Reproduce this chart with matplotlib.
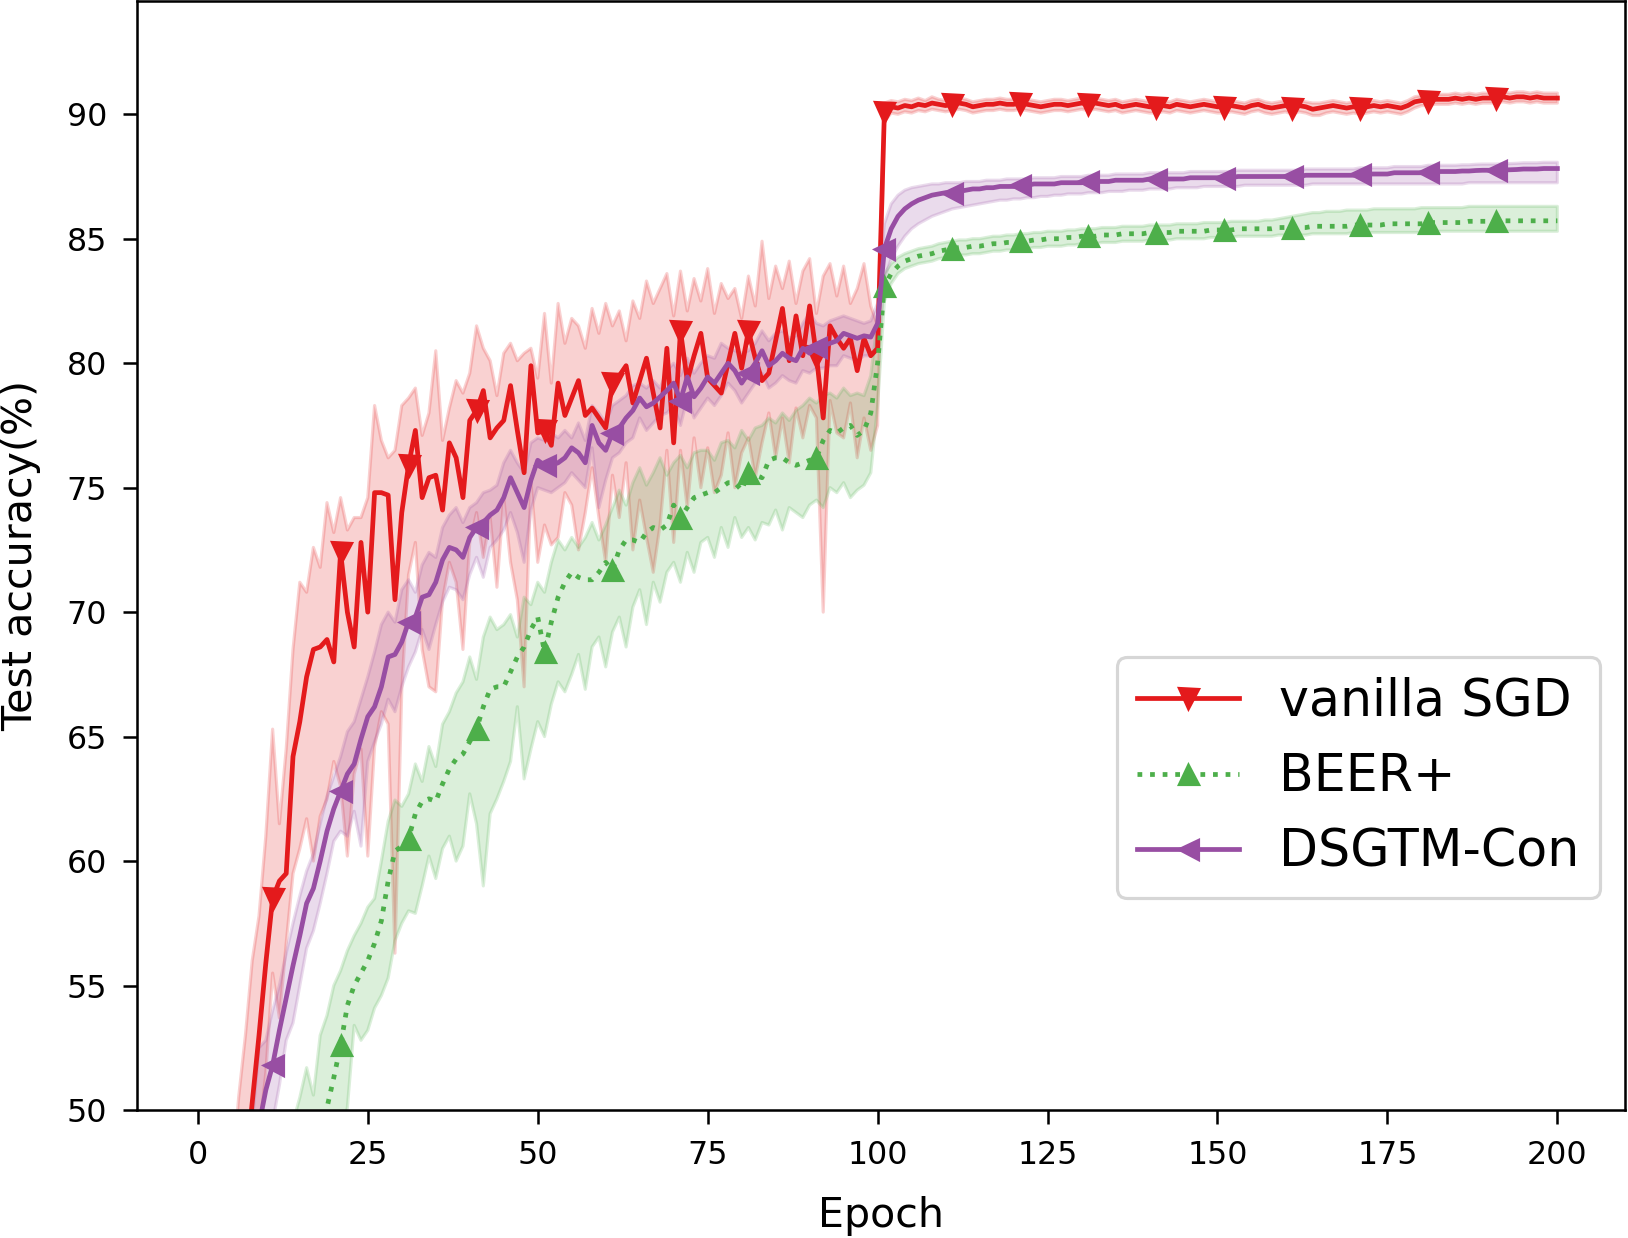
import matplotlib
matplotlib.use('Agg')
import matplotlib.pyplot as plt
import numpy as np

#? Data (epochs 1..200)
epochs = np.arange(1, 201)

# vanilla SGD
sgd_mean = [
    20.0, 27.0, 33.0, 38.0, 42.0, 45.0, 47.5, 50.3, 53.0, 55.9,
    58.5, 59.2, 59.5, 64.2, 65.6, 67.4, 68.5, 68.6, 68.9, 68.0,
    72.4, 70.0, 68.6, 72.8, 70.0, 74.8, 74.8, 74.7, 70.5, 74.0,
    75.9, 77.3, 74.6, 75.4, 75.5, 74.1, 76.8, 76.2, 74.6, 77.7,
    78.1, 78.9, 77.0, 77.4, 77.7, 79.1, 77.3, 75.6, 79.9, 77.2,
    77.3, 76.7, 79.2, 77.9, 78.6, 79.3, 77.9, 78.2, 77.8, 77.4,
    79.2, 79.5, 79.9, 78.4, 79.3, 80.2, 78.8, 77.4, 80.6, 76.8,
    81.3, 79.3, 80.3, 81.2, 79.4, 79.1, 78.8, 80.0, 81.2, 79.8,
    81.3, 80.2, 79.3, 79.6, 80.9, 82.2, 80.1, 81.9, 80.3, 82.3,
    80.3, 77.8, 81.5, 81.0, 80.6, 81.0, 79.7, 81.0, 80.3, 80.6,
    90.1, 90.3, 90.25, 90.35, 90.3, 90.4, 90.35, 90.45, 90.4, 90.35,
    90.4, 90.45, 90.4, 90.3, 90.35, 90.4, 90.4, 90.45, 90.4, 90.4,
    90.45, 90.4, 90.35, 90.3, 90.35, 90.4, 90.4, 90.35, 90.4, 90.45,
    90.4, 90.45, 90.4, 90.35, 90.4, 90.3, 90.35, 90.4, 90.35, 90.3,
    90.3, 90.35, 90.3, 90.4, 90.35, 90.3, 90.35, 90.4, 90.35, 90.3,
    90.3, 90.35, 90.3, 90.25, 90.35, 90.4, 90.3, 90.25, 90.3, 90.35,
    90.25, 90.35, 90.3, 90.2, 90.25, 90.3, 90.35, 90.3, 90.25, 90.3,
    90.25, 90.3, 90.35, 90.3, 90.35, 90.3, 90.25, 90.35, 90.5, 90.55,
    90.55, 90.6, 90.6, 90.6, 90.65, 90.6, 90.65, 90.6, 90.65, 90.65,
    90.65, 90.7, 90.65, 90.7, 90.7, 90.65, 90.7, 90.65, 90.65, 90.65,
]
sgd_hi = [
    24.0, 32.0, 38.0, 43.0, 47.0, 50.5, 53.0, 56.0, 57.8, 61.0,
    65.3, 61.5, 64.5, 68.5, 71.2, 70.8, 72.6, 71.8, 74.4, 73.2,
    74.6, 73.3, 73.8, 73.8, 74.6, 78.3, 76.9, 76.2, 76.5, 78.3,
    78.6, 79.0, 77.1, 78.0, 80.5, 76.9, 78.2, 79.3, 78.8, 79.6,
    81.5, 80.6, 80.1, 78.7, 80.4, 80.8, 80.1, 80.4, 80.6, 79.4,
    82.0, 79.2, 82.4, 80.8, 81.8, 81.5, 80.6, 82.2, 81.2, 82.4,
    81.5, 82.1, 80.9, 82.5, 81.8, 83.3, 82.4, 83.0, 83.6, 81.9,
    83.7, 82.1, 83.4, 82.5, 83.8, 82.0, 83.2, 82.6, 83.0, 81.8,
    83.5, 82.3, 84.9, 82.6, 83.9, 83.0, 84.1, 82.4, 83.7, 84.2,
    82.0, 83.5, 84.0, 82.7, 83.9, 82.4, 83.0, 84.0, 82.3, 81.5,
    90.45, 90.55, 90.5, 90.6, 90.55, 90.65, 90.55, 90.7, 90.6, 90.55,
    90.6, 90.65, 90.6, 90.5, 90.55, 90.6, 90.6, 90.65, 90.6, 90.6,
    90.65, 90.6, 90.55, 90.5, 90.55, 90.6, 90.6, 90.55, 90.6, 90.65,
    90.6, 90.65, 90.6, 90.55, 90.6, 90.5, 90.55, 90.6, 90.55, 90.5,
    90.5, 90.55, 90.5, 90.6, 90.55, 90.5, 90.55, 90.6, 90.55, 90.5,
    90.5, 90.55, 90.5, 90.45, 90.55, 90.6, 90.5, 90.45, 90.5, 90.55,
    90.45, 90.55, 90.5, 90.45, 90.45, 90.5, 90.55, 90.5, 90.45, 90.5,
    90.45, 90.5, 90.55, 90.5, 90.55, 90.5, 90.45, 90.55, 90.7, 90.75,
    90.75, 90.8, 90.8, 90.8, 90.85, 90.8, 90.85, 90.8, 90.85, 90.85,
    90.85, 90.9, 90.85, 90.9, 90.9, 90.85, 90.9, 90.85, 90.85, 90.85,
]
sgd_lo = [
    15.0, 22.0, 28.0, 33.0, 37.0, 40.0, 43.0, 46.0, 49.0, 51.5,
    55.5, 53.7, 56.7, 59.5, 60.5, 61.7, 60.0, 61.8, 62.5, 64.0,
    63.0, 60.2, 63.5, 64.5, 60.2, 64.6, 66.0, 65.5, 56.3, 66.9,
    71.5, 72.8, 68.5, 67.0, 66.8, 70.5, 72.0, 71.2, 68.5, 72.8,
    74.0, 72.2, 73.8, 71.0, 74.6, 72.0, 70.5, 67.0, 75.2, 72.0,
    73.5, 72.7, 73.0, 74.8, 74.3, 72.5, 74.0, 75.8, 73.8, 72.0,
    75.5, 73.8, 76.0, 72.5, 74.5, 73.0, 71.6, 73.5, 76.5, 72.8,
    76.5, 74.2, 77.0, 75.0, 76.6, 74.8, 75.5, 77.2, 75.0, 76.4,
    77.0, 75.4, 76.8, 78.0, 76.2, 77.8, 76.0, 78.2, 77.0, 78.3,
    77.8, 70.0, 78.5, 77.2, 77.0, 78.4, 76.2, 77.8, 76.5, 77.5,
    89.7, 90.05, 90.0, 90.1, 90.05, 90.15, 90.1, 90.2, 90.15, 90.1,
    90.15, 90.2, 90.15, 90.05, 90.1, 90.15, 90.15, 90.2, 90.15, 90.15,
    90.2, 90.15, 90.1, 90.05, 90.1, 90.15, 90.15, 90.1, 90.15, 90.2,
    90.15, 90.2, 90.15, 90.1, 90.15, 90.05, 90.1, 90.15, 90.1, 90.05,
    90.05, 90.1, 90.05, 90.15, 90.1, 90.05, 90.1, 90.15, 90.1, 90.05,
    90.05, 90.1, 90.05, 90.0, 90.1, 90.15, 90.05, 90.0, 90.05, 90.1,
    90.0, 90.1, 90.05, 89.95, 89.95, 90.05, 90.1, 90.05, 90.0, 90.05,
    90.0, 90.05, 90.1, 90.05, 90.1, 90.05, 90.0, 90.1, 90.25, 90.35,
    90.35, 90.4, 90.4, 90.4, 90.45, 90.4, 90.45, 90.4, 90.45, 90.45,
    90.45, 90.5, 90.45, 90.5, 90.5, 90.45, 90.5, 90.45, 90.45, 90.45,
]

# BEER+
beer_mean = [
    20.0, 23.0, 26.0, 28.5, 31.0, 33.0, 35.0, 36.5, 38.0, 39.0,
    40.0, 41.5, 43.0, 44.0, 45.0, 46.0, 47.5, 48.8, 50.1, 51.3,
    52.6, 54.2, 55.0, 55.5, 56.0, 56.7, 57.6, 59.2, 60.4, 60.6,
    60.9, 61.9, 62.4, 62.5, 62.4, 63.1, 63.7, 64.1, 64.3, 64.8,
    65.3, 66.2, 66.9, 67.0, 67.0, 67.6, 68.2, 68.6, 69.3, 69.8,
    68.4, 69.6, 70.6, 71.2, 71.6, 71.4, 71.3, 71.3, 71.6, 72.0,
    71.7, 72.5, 72.9, 72.9, 72.8, 73.2, 73.4, 73.3, 73.5, 74.3,
    73.8, 74.2, 74.6, 74.7, 74.8, 74.8, 75.0, 75.2, 75.2, 74.9,
    75.6, 75.5, 75.4, 76.1, 76.2, 76.2, 76.0, 75.9, 76.0, 76.1,
    76.2, 76.9, 77.3, 77.2, 77.4, 77.5, 77.1, 77.3, 78.0, 80.0,
    83.1, 83.6, 83.9, 84.1, 84.2, 84.3, 84.35, 84.4, 84.5, 84.55,
    84.6, 84.65, 84.65, 84.7, 84.7, 84.75, 84.8, 84.8, 84.85, 84.85,
    84.9, 84.9, 84.95, 84.95, 85.0, 85.0, 85.0, 85.05, 85.05, 85.1,
    85.1, 85.1, 85.15, 85.15, 85.15, 85.2, 85.2, 85.2, 85.2, 85.25,
    85.25, 85.25, 85.25, 85.3, 85.3, 85.3, 85.3, 85.3, 85.35, 85.35,
    85.35, 85.35, 85.4, 85.4, 85.4, 85.4, 85.4, 85.4, 85.45, 85.45,
    85.45, 85.45, 85.45, 85.5, 85.5, 85.5, 85.5, 85.5, 85.5, 85.55,
    85.55, 85.55, 85.55, 85.55, 85.6, 85.6, 85.6, 85.6, 85.6, 85.6,
    85.65, 85.65, 85.65, 85.65, 85.65, 85.65, 85.7, 85.7, 85.7, 85.7,
    85.72, 85.72, 85.72, 85.72, 85.72, 85.72, 85.72, 85.72, 85.72, 85.72,
]
beer_hi = [
    22.5, 26.0, 29.5, 32.0, 35.0, 37.0, 40.0, 42.0, 44.0, 45.5,
    46.5, 47.5, 48.5, 49.5, 50.5, 51.7, 50.6, 53.0, 53.8, 55.0,
    55.6, 56.4, 57.0, 57.5, 58.15, 58.5, 60.0, 61.6, 62.45, 62.2,
    62.7, 63.9, 63.2, 64.6, 63.8, 65.5, 66.0, 66.75, 67.2, 68.2,
    67.3, 69.0, 69.8, 69.3, 69.5, 69.9, 69.0, 70.6, 70.3, 71.2,
    70.8, 72.0, 72.9, 72.5, 73.0, 72.6, 73.0, 73.6, 72.9, 73.5,
    74.2, 74.9, 74.3, 75.2, 75.8, 75.1, 75.6, 76.2, 75.5, 76.0,
    76.3, 75.8, 76.4, 76.5, 76.5, 76.1, 76.8, 76.9, 76.6, 77.3,
    76.9, 77.4, 77.5, 77.8, 77.6, 78.0, 77.7, 78.1, 78.3, 78.6,
    78.4, 78.7, 78.8, 78.6, 79.0, 78.7, 78.8, 78.7, 79.5, 81.8,
    83.6, 84.0, 84.25, 84.4, 84.5, 84.6, 84.65, 84.7, 84.8, 84.85,
    84.9, 84.95, 84.95, 85.0, 85.0, 85.05, 85.1, 85.1, 85.15, 85.15,
    85.2, 85.2, 85.25, 85.25, 85.3, 85.3, 85.3, 85.35, 85.35, 85.4,
    85.4, 85.4, 85.45, 85.45, 85.45, 85.5, 85.5, 85.5, 85.5, 85.55,
    85.55, 85.55, 85.55, 85.6, 85.6, 85.6, 85.6, 85.65, 85.65, 85.65,
    85.65, 85.7, 85.7, 85.7, 85.7, 85.7, 85.75, 85.75, 85.8, 85.85,
    85.9, 85.95, 86.0, 86.05, 86.05, 86.1, 86.1, 86.1, 86.15, 86.15,
    86.15, 86.15, 86.2, 86.2, 86.2, 86.2, 86.2, 86.2, 86.2, 86.25,
    86.25, 86.25, 86.25, 86.25, 86.25, 86.25, 86.3, 86.3, 86.3, 86.3,
    86.3, 86.3, 86.3, 86.3, 86.3, 86.3, 86.3, 86.3, 86.3, 86.3,
]
beer_lo = [
    17.0, 20.0, 23.0, 25.5, 27.5, 29.5, 31.5, 33.0, 34.5, 35.5,
    36.5, 37.5, 38.5, 39.5, 40.5, 41.5, 43.0, 44.5, 46.0, 47.5,
    49.0, 50.1, 53.4, 52.8, 53.2, 54.1, 54.6, 55.3, 56.8, 57.5,
    58.0, 57.9, 59.0, 60.2, 59.3, 60.5, 61.0, 60.0, 60.6, 62.7,
    61.5, 59.0, 61.9, 62.5, 63.2, 64.0, 66.2, 63.3, 64.5, 65.6,
    65.0, 66.3, 67.2, 66.8, 67.5, 68.3, 66.9, 68.6, 69.0, 67.8,
    69.2, 69.8, 68.6, 70.2, 70.9, 69.5, 71.2, 70.4, 71.6, 72.0,
    71.2, 72.4, 71.6, 72.8, 73.0, 72.2, 73.4, 72.6, 73.8, 73.0,
    73.4, 72.9, 73.6, 73.5, 74.1, 73.3, 74.2, 74.0, 73.8, 74.3,
    74.5, 74.2, 75.0, 74.8, 75.2, 74.6, 74.9, 75.1, 75.6, 78.3,
    82.5, 83.2, 83.6, 83.8, 83.9, 84.0, 84.05, 84.1, 84.2, 84.25,
    84.3, 84.35, 84.35, 84.4, 84.4, 84.45, 84.5, 84.5, 84.55, 84.55,
    84.6, 84.6, 84.65, 84.65, 84.7, 84.7, 84.7, 84.75, 84.75, 84.8,
    84.8, 84.8, 84.85, 84.85, 84.85, 84.9, 84.9, 84.9, 84.9, 84.95,
    84.95, 84.95, 84.95, 85.0, 85.0, 85.0, 85.0, 85.0, 85.05, 85.05,
    85.05, 85.05, 85.1, 85.1, 85.1, 85.1, 85.1, 85.1, 85.15, 85.15,
    85.15, 85.15, 85.15, 85.2, 85.2, 85.2, 85.2, 85.2, 85.2, 85.25,
    85.25, 85.25, 85.25, 85.25, 85.25, 85.25, 85.25, 85.25, 85.25, 85.25,
    85.3, 85.3, 85.3, 85.3, 85.3, 85.3, 85.3, 85.3, 85.3, 85.3,
    85.3, 85.3, 85.3, 85.3, 85.3, 85.3, 85.3, 85.3, 85.3, 85.3,
]

# DSGTM-Con
dsgtm_mean = [
    18.0, 23.0, 28.0, 32.0, 36.0, 40.0, 43.5, 46.5, 49.4, 50.8,
    51.8, 53.2, 54.5, 55.8, 57.0, 58.3, 58.9, 60.0, 61.2, 62.1,
    62.8, 63.5, 63.9, 64.9, 65.8, 66.2, 67.0, 68.2, 68.3, 68.8,
    69.6, 69.8, 70.6, 70.7, 71.2, 72.1, 72.6, 72.5, 72.2, 73.0,
    73.4, 73.6, 73.9, 74.1, 74.6, 75.4, 74.8, 74.2, 75.3, 76.1,
    75.9, 75.9, 76.0, 76.2, 76.6, 76.4, 76.0, 77.5, 76.8, 76.5,
    77.2, 77.4, 77.8, 78.1, 78.6, 78.25, 78.4, 78.65, 78.9, 79.2,
    78.5, 79.45, 78.65, 79.0, 79.45, 79.2, 79.6, 80.0, 79.7, 79.2,
    79.6, 80.0, 80.5, 79.9, 80.1, 80.4, 80.2, 80.1, 80.6, 80.4,
    80.65, 80.7, 80.8, 80.9, 81.2, 81.1, 81.0, 81.1, 81.05, 81.6,
    84.6, 85.4, 85.9, 86.2, 86.4, 86.55, 86.65, 86.75, 86.8, 86.85,
    86.85, 86.9, 86.95, 87.0, 87.0, 87.05, 87.05, 87.1, 87.1, 87.1,
    87.15, 87.15, 87.2, 87.2, 87.2, 87.2, 87.25, 87.25, 87.25, 87.25,
    87.3, 87.3, 87.3, 87.3, 87.35, 87.35, 87.35, 87.35, 87.35, 87.4,
    87.4, 87.4, 87.4, 87.4, 87.4, 87.45, 87.45, 87.45, 87.45, 87.45,
    87.45, 87.45, 87.5, 87.5, 87.5, 87.5, 87.5, 87.5, 87.5, 87.5,
    87.5, 87.5, 87.55, 87.55, 87.55, 87.55, 87.55, 87.55, 87.55, 87.55,
    87.6, 87.6, 87.6, 87.6, 87.6, 87.65, 87.65, 87.65, 87.65, 87.65,
    87.7, 87.7, 87.7, 87.7, 87.7, 87.72, 87.72, 87.74, 87.75, 87.75,
    87.75, 87.76, 87.77, 87.78, 87.8, 87.8, 87.8, 87.82, 87.82, 87.82,
]
dsgtm_hi = [
    21.0, 26.5, 31.5, 35.5, 39.5, 43.0, 46.5, 49.5, 52.5, 52.8,
    54.0, 55.0, 56.3, 57.5, 58.6, 59.6, 60.3, 61.5, 62.6, 63.4,
    64.2, 65.2, 65.6, 66.5, 67.4, 68.4, 69.5, 70.0, 69.6, 70.9,
    71.3, 70.8, 71.9, 72.4, 72.2, 73.4, 73.9, 74.2, 73.6, 74.2,
    74.4, 74.8, 74.9, 75.1, 76.0, 76.5, 76.0, 75.6, 76.8, 77.0,
    76.9, 77.2, 77.0, 77.3, 77.0, 77.6, 76.9, 78.3, 78.0, 77.6,
    78.3, 78.5, 78.7, 79.1, 79.2, 79.0, 79.3, 79.0, 79.7, 80.0,
    79.5, 80.2, 79.6, 80.0, 80.3, 80.2, 80.8, 80.6, 80.5, 80.4,
    80.5, 80.8, 81.3, 80.9, 81.2, 81.3, 81.0, 81.1, 81.6, 82.0,
    81.6, 81.5, 81.7, 81.8, 81.9, 81.8, 81.7, 81.6, 81.7, 82.4,
    85.6, 86.4, 86.75, 86.95, 87.05, 87.1, 87.15, 87.2, 87.2, 87.25,
    87.25, 87.25, 87.3, 87.3, 87.3, 87.35, 87.35, 87.35, 87.4, 87.4,
    87.4, 87.4, 87.45, 87.45, 87.45, 87.45, 87.5, 87.5, 87.5, 87.5,
    87.55, 87.55, 87.55, 87.55, 87.6, 87.6, 87.6, 87.6, 87.6, 87.65,
    87.65, 87.65, 87.65, 87.65, 87.65, 87.7, 87.7, 87.7, 87.7, 87.7,
    87.7, 87.7, 87.75, 87.75, 87.75, 87.75, 87.75, 87.75, 87.75, 87.75,
    87.75, 87.75, 87.8, 87.8, 87.8, 87.8, 87.8, 87.8, 87.8, 87.8,
    87.85, 87.85, 87.85, 87.85, 87.85, 87.9, 87.9, 87.9, 87.9, 87.9,
    87.95, 87.95, 87.95, 87.95, 87.95, 87.97, 87.97, 87.99, 88.0, 88.0,
    88.0, 88.01, 88.02, 88.03, 88.05, 88.05, 88.05, 88.07, 88.07, 88.07,
]
dsgtm_lo = [
    15.0, 20.0, 25.0, 29.0, 33.0, 37.0, 40.5, 43.5, 46.5, 48.5,
    49.5, 51.0, 52.8, 53.5, 55.0, 56.5, 57.2, 58.3, 59.5, 60.8,
    61.2, 61.0, 62.0, 60.6, 64.0, 64.8, 65.5, 66.5, 66.0, 67.0,
    67.8, 68.4, 69.3, 68.5, 69.5, 70.4, 71.0, 70.9, 70.5, 71.5,
    72.2, 71.4, 72.6, 72.9, 73.3, 74.0, 73.2, 72.0, 74.1, 75.0,
    74.9, 74.8, 75.0, 75.2, 75.6, 75.3, 75.0, 76.6, 74.2, 75.3,
    76.2, 76.4, 76.8, 77.0, 77.8, 77.3, 77.6, 77.9, 78.0, 78.3,
    77.5, 78.6, 77.8, 78.2, 78.6, 78.3, 78.7, 79.2, 78.9, 78.4,
    78.8, 79.2, 79.6, 79.0, 79.2, 79.5, 79.3, 79.2, 79.7, 79.6,
    79.8, 79.8, 79.9, 79.9, 80.3, 80.2, 80.1, 80.3, 80.3, 80.6,
    83.4, 84.2, 84.7, 85.1, 85.4, 85.6, 85.75, 85.9, 86.0, 86.1,
    86.2, 86.25, 86.3, 86.35, 86.4, 86.45, 86.5, 86.55, 86.55, 86.6,
    86.6, 86.65, 86.65, 86.7, 86.7, 86.75, 86.75, 86.8, 86.8, 86.8,
    86.85, 86.85, 86.85, 86.9, 86.9, 86.9, 86.95, 86.95, 86.95, 87.0,
    87.0, 87.0, 87.0, 87.05, 87.05, 87.05, 87.05, 87.1, 87.1, 87.1,
    87.1, 87.1, 87.1, 87.15, 87.15, 87.15, 87.15, 87.15, 87.15, 87.15,
    87.15, 87.15, 87.15, 87.2, 87.2, 87.2, 87.2, 87.2, 87.2, 87.2,
    87.2, 87.2, 87.2, 87.2, 87.2, 87.2, 87.2, 87.2, 87.2, 87.2,
    87.2, 87.2, 87.2, 87.2, 87.2, 87.2, 87.25, 87.25, 87.25, 87.25,
    87.25, 87.25, 87.25, 87.25, 87.25, 87.25, 87.25, 87.25, 87.25, 87.25,
]

labels = ['vanilla SGD', 'BEER+', 'DSGTM-Con']
colors = ['#e41a1c', '#4daf4a', '#984ea3']
markers = ['v', '^', '<']
styles = ['-', ':', '-']

#? Build the figure (pixel size fixed by the reference)
dpi = 228
fig = plt.figure(figsize=(1628 / dpi, 1238 / dpi), dpi=dpi)
ax = fig.add_axes([137 / 1628, 1 - 1110 / 1238, (1625 - 137) / 1628, (1110 - 1) / 1238])

series = [(sgd_mean, sgd_lo, sgd_hi), (beer_mean, beer_lo, beer_hi), (dsgtm_mean, dsgtm_lo, dsgtm_hi)]
for (mean, lo, hi), lab, c, m, ls in zip(series, labels, colors, markers, styles):
    ax.plot(epochs, mean, linestyle=ls, color=c, marker=m, markevery=10,
            markersize=6, linewidth=1.5, label=lab)
    ax.fill_between(epochs, lo, hi, color=c, alpha=0.2)

ax.set_xlim(-8.95, 209.95)
ax.set_ylim(50, 94.55)
ax.set_xticks([0, 25, 50, 75, 100, 125, 150, 175, 200])
ax.set_yticks([50, 55, 60, 65, 70, 75, 80, 85, 90])
ax.tick_params(labelsize=10, length=4.4, pad=5)

ax.set_xlabel('Epoch', fontsize=13, labelpad=8)
ax.set_ylabel('Test accuracy(%)', fontsize=13, labelpad=8)

ax.legend(loc='center right', bbox_to_anchor=(1.0, 0.30), fontsize=16)

fig.savefig('out.png', dpi=dpi)
